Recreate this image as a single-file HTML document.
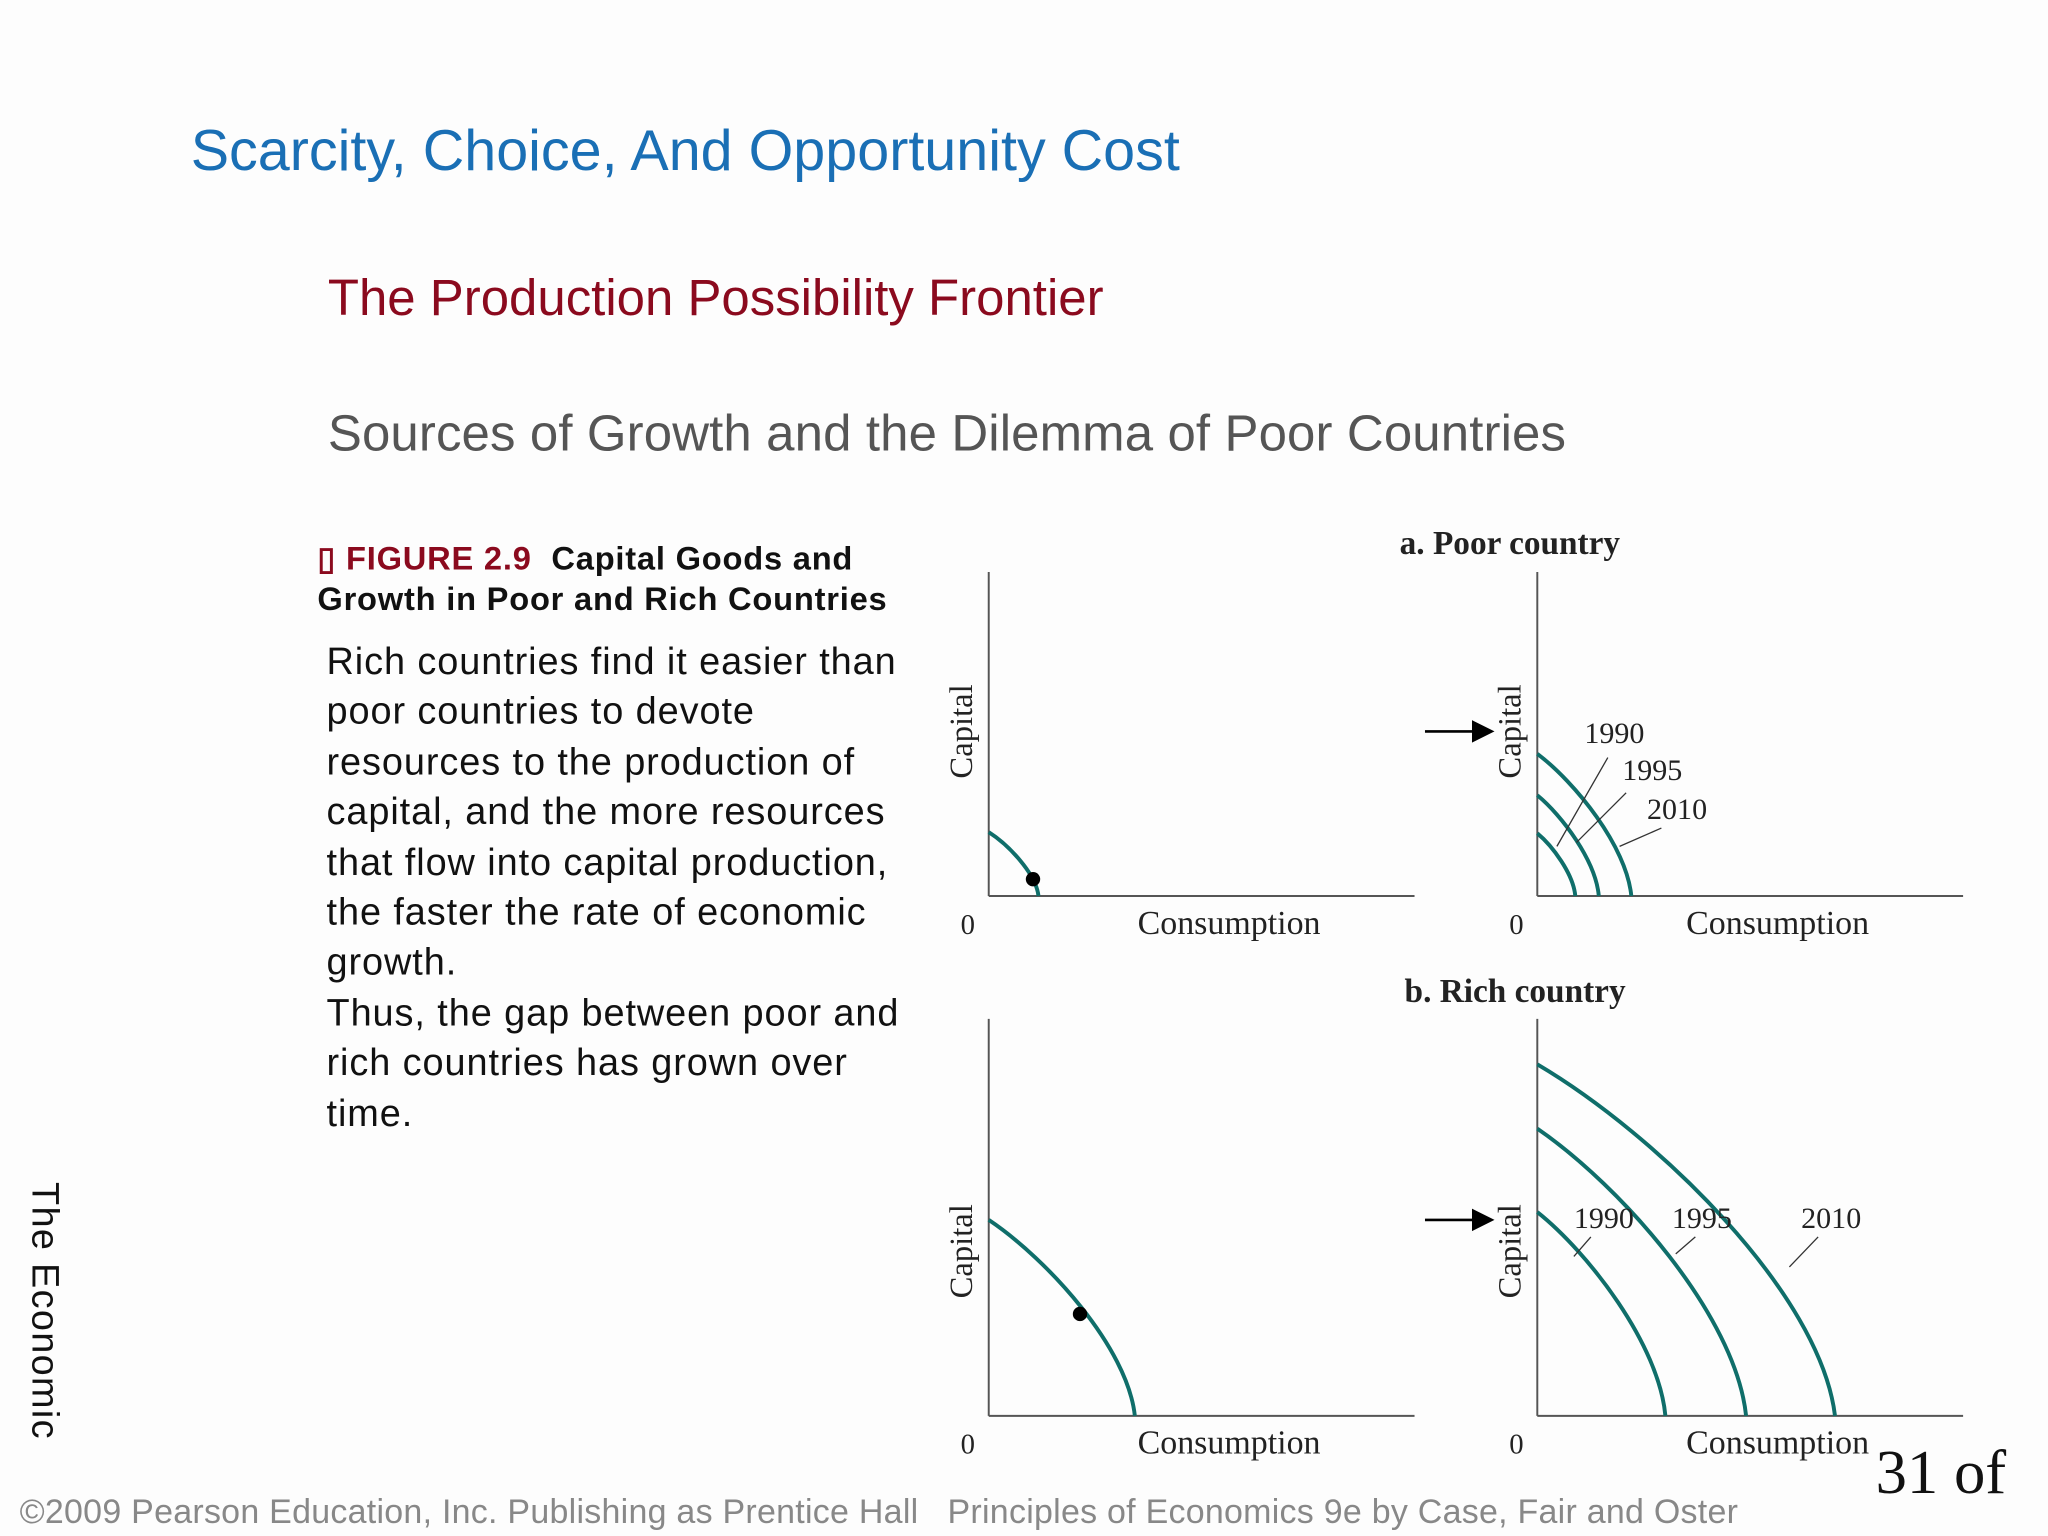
<!DOCTYPE html>
<html><head><meta charset="utf-8"><style>
html,body{margin:0;padding:0;background:#fdfdfd;overflow:hidden}
#wrap{position:absolute;left:0;top:0;width:1568px;height:1176px;transform:scale(1.30612);transform-origin:0 0;font-family:"Liberation Sans",sans-serif}
.t{position:absolute;white-space:nowrap}
</style></head><body>
<div id="wrap">
<div class="t" style="left:146px;top:91px;font-size:44px;color:#1a6fb5">Scarcity, Choice, And Opportunity Cost</div>
<div class="t" style="left:251px;top:207px;font-size:39px;color:#8b0a1e">The Production Possibility Frontier</div>
<div class="t" style="left:251px;top:311px;font-size:39px;color:#555;letter-spacing:0.1px">Sources of Growth and the Dilemma of Poor Countries</div>
<div class="t" style="left:243px;top:413px;font-size:25px;font-weight:bold;line-height:31px;color:#111;letter-spacing:0.6px"><span style="color:#8b0a1e">▯ FIGURE 2.9</span>&nbsp; Capital Goods and<br>Growth in Poor and Rich Countries</div>
<div class="t" style="left:250px;top:488px;font-size:29px;line-height:38.4px;color:#111;letter-spacing:0.7px">Rich countries find it easier than<br>poor countries to devote<br>resources to the production of<br>capital, and the more resources<br>that flow into capital production,<br>the faster the rate of economic<br>growth.<br>Thus, the gap between poor and<br>rich countries has grown over<br>time.</div>
<div class="t" style="left:50px;top:905px;font-size:29px;color:#111;transform:rotate(90deg);transform-origin:0 0;letter-spacing:1px">The Economic</div>
<div class="t" style="left:15px;top:1142px;font-size:26px;color:#888;letter-spacing:0.2px">©2009 Pearson Education, Inc. Publishing as Prentice Hall &nbsp;&nbsp;Principles of Economics 9e by Case, Fair and Oster</div>
<div class="t" style="left:1436px;top:1100px;font-size:48px;font-family:'Liberation Serif',serif;color:#111">31 of</div>
<svg id="chart" width="1568" height="1176" style="position:absolute;left:0;top:0" font-family="Liberation Serif, serif"></svg>
</div>
<script>
// data (units: consumption / capital)
const years = ["1990","1995","2010"];
const poorCapital = [16, 25.7, 36.3];
const poorConsumption = [9.7, 15.7, 24];
const richCapital = [52, 73.3, 89.7];
const richConsumption = [32.7, 53.3, 76];
const poorChoiceCapital = 16.3, poorChoiceConsumption = 12.7;
const poorDot = [11.3, 4.3];
const richChoiceCapital = 50, richChoiceConsumption = 37.3;
const richDot = [23.3, 26];
const poorYMax = 82.7, richYMax = 101.3, xMax = 108.7;

const svg = document.getElementById('chart');
const NS = 'http://www.w3.org/2000/svg';
const TEAL = '#0f6e6a';
function mk(tag, attrs, parent){const e=document.createElementNS(NS,tag);for(const k in attrs)e.setAttribute(k,attrs[k]);(parent||svg).appendChild(e);return e;}
function panel(ox, oy, yMax, name){
  const W=326, H=yMax*3;
  const sx=v=>ox+v/xMax*W, sy=v=>oy-v/yMax*H;
  const g=mk('g',{});
  
  
  const ya=mk('line',{x1:ox,y1:oy-H,x2:ox,y2:oy,stroke:'#555','stroke-width':1.5},g);
  
  
  const xa=mk('line',{x1:ox,y1:oy,x2:ox+W,y2:oy,stroke:'#555','stroke-width':1.5},g);
  
  
  const z=mk('text',{x:ox-16,y:oy+29,'font-size':22,'text-anchor':'middle',fill:'#222'},g);z.textContent='0';
  
  
  const xl=mk('text',{x:ox+184,y:oy+29,'font-size':26,'text-anchor':'middle',fill:'#222'},g);xl.textContent='Consumption';
  
  
  const yl=mk('text',{x:0,y:0,'font-size':25,'text-anchor':'middle',fill:'#222',transform:`translate(${ox-13},${oy-126}) rotate(-90)`},g);yl.textContent='Capital';
  
  
  return {g,sx,sy};
}
function curve(p, cap, cons, name){
  const x0=p.sx(0), y0=p.sy(cap), x3=p.sx(cons), y3=p.sy(0);
  const x1=p.sx(cons*0.4), y1=p.sy(cap*0.8), x2=p.sx(cons*0.95), y2=p.sy(cap*0.35);
  const c=mk('path',{d:`M${x0},${y0} C${x1},${y1} ${x2},${y2} ${x3},${y3}`,fill:'none',stroke:TEAL,'stroke-width':3},p.g);
  
  
}
function dot(p, d, name){
  const c=mk('circle',{cx:p.sx(d[0]),cy:p.sy(d[1]),r:5.5,fill:'#000'},p.g);
  
  
}
function arrow(y){
  const a=mk('path',{d:`M1091,${y} L1130,${y} M1128,${y-7} L1142,${y} L1128,${y+7} Z`,stroke:'#000','stroke-width':2,fill:'#000'});
  
  
}
function title(x,y,t,name){
  const e=mk('text',{x:x,y:y,'font-size':25.5,'font-weight':'bold','text-anchor':'middle',fill:'#222'});e.textContent=t;
  
  
}
function label(p,x,y,t,lx1,ly1,lx2,ly2){
  const e=mk('text',{x:x,y:y,'font-size':23,'text-anchor':'middle',fill:'#222'},p.g);e.textContent=t;
  
  
  const l=mk('line',{x1:lx1,y1:ly1,x2:lx2,y2:ly2,stroke:'#333','stroke-width':1},p.g);
  
  
}
title(1156,424,'a. Poor country','poor-country-title');
title(1160,767,'b. Rich country','rich-country-title');
const pa=panel(757,686,poorYMax,'poor-choice-panel');
curve(pa,poorChoiceCapital,poorChoiceConsumption,'poor-ppf');
dot(pa,poorDot,'poor-choice-point');
const pb=panel(1177,686,poorYMax,'poor-growth-panel');
years.forEach((y,i)=>curve(pb,poorCapital[i],poorConsumption[i],'poor-ppf-'+y));
label(pb,1236,569,years[0],1231,580,1192,648);
label(pb,1265,597,years[1],1245,607,1207,645);
label(pb,1284,627,years[2],1272,634,1240,648);
arrow(560);
const ra=panel(757,1084,richYMax,'rich-choice-panel');
curve(ra,richChoiceCapital,richChoiceConsumption,'rich-ppf');
dot(ra,richDot,'rich-choice-point');
const rb=panel(1177,1084,richYMax,'rich-growth-panel');
years.forEach((y,i)=>curve(rb,richCapital[i],richConsumption[i],'rich-ppf-'+y));
label(rb,1228,940,years[0],1218,947,1205,962);
label(rb,1303,940,years[1],1298,947,1283,960);
label(rb,1402,940,years[2],1392,947,1370,970);
arrow(934);
</script>
</body></html>
